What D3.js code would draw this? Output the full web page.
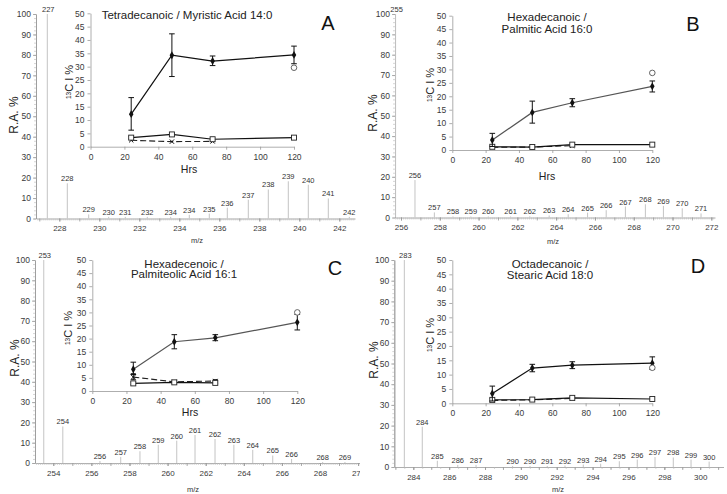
<!DOCTYPE html>
<html><head><meta charset="utf-8">
<script src="https://cdn.jsdelivr.net/npm/d3@7/dist/d3.min.js"></script>
<style>
body{margin:0;background:#fff;}
svg text{font-family:"Liberation Sans",Arial,Helvetica,sans-serif;}
</style></head><body>
<script>
// ---------------- data ----------------
const hours = [24, 48, 72, 120];
const hours3 = [24, 48, 72];
const hoursOpen = [120];

// Panel A – Tetradecanoic / Myristic Acid 14:0
const specA_mz  = [227.4, 228.4, 229.47, 230.47, 231.3, 232.4, 233.57, 234.5, 235.5, 236.4, 237.45, 238.45, 239.45, 240.45, 241.45, 242.5];
const specA_ra  = [100, 17.2, 2, 0.8, 0.8, 0.8, 0.8, 1.8, 2.4, 5.3, 9.2, 14.2, 18.2, 16.5, 9.8, 0.8];
const specA_lbl = ["227","228","229","230","231","232","234","234","235","236","237","238","239","240","241","242"];
const incA_mean = [12.2, 34.3, 32.1, 34.4];
const incA_lo   = [6.2, 26.3, 30.4, 31.1];
const incA_hi   = [18.4, 42.3, 34.0, 37.7];
const incA_open = [29.6];
const incA_sq   = [3.4, 4.6, 2.8, 3.4];
const incA_sqLo = [2.9, 4.1, 2.3, 2.9];
const incA_sqHi = [3.9, 5.1, 3.4, 3.9];
const incA_x    = [2.4, 1.9, 2.0];

// Panel B – Hexadecanoic / Palmitic Acid 16:0
const specB_mz  = [255.72, 256.72, 257.72, 258.68, 259.6, 260.5, 261.65, 262.64, 263.64, 264.62, 265.62, 266.58, 267.57, 268.6, 269.53, 270.5, 271.47];
const specB_ra  = [100, 18.4, 2.5, 0.5, 0.5, 0.5, 0.5, 0.6, 1.0, 1.6, 2.4, 3.6, 5.4, 6.5, 5.7, 4.5, 2.0];
const specB_lbl = ["255","256","257","258","259","260","261","262","263","264","265","266","267","268","269","270","271"];
const incB_mean = [3.7, 14.0, 17.6, 23.7];
const incB_lo   = [1.3, 10.0, 16.1, 21.6];
const incB_hi   = [6.2, 18.2, 19.1, 25.7];
const incB_open = [28.7];
const incB_sq   = [1.2, 1.1, 2.0, 2.0];
const incB_sqLo = [0.7, 0.6, 1.5, 1.4];
const incB_sqHi = [1.7, 1.6, 2.5, 2.6];
const incB_x    = [1.0, 1.1, 1.6];

// Panel C – Hexadecenoic / Palmiteolic Acid 16:1
const specC_mz  = [253.5, 254.5, 256.45, 257.54, 258.55, 259.51, 260.48, 261.44, 262.49, 263.48, 264.47, 265.52, 266.51, 268.14, 269.31];
const specC_ra  = [100, 18, 1, 3, 5.8, 9, 11, 13.8, 11.8, 9, 6.5, 3.7, 2, 0.5, 0.5];
const specC_lbl = ["253","254","256","257","258","259","260","261","262","263","264","265","266","268","269"];
const incC_mean = [8.3, 18.8, 20.3, 26.2];
const incC_lo   = [6.3, 16.1, 19.2, 23.3];
const incC_hi   = [11.0, 21.5, 21.5, 29.2];
const incC_open = [30.0];
const incC_sq   = [2.9, 3.3, 3.1];
const incC_sqLo = [2.4, 2.9, 2.6];
const incC_sqHi = [3.4, 3.7, 3.6];
const incC_x    = [5.3, 3.5, 3.8];
const incC_xLo  = [4.3, 3.1, 3.3];
const incC_xHi  = [6.6, 3.9, 4.3];

// Panel D – Octadecanoic / Stearic Acid 18:0
const specD_mz  = [283.5, 284.5, 285.34, 286.48, 287.5, 289.54, 290.51, 291.47, 292.46, 293.48, 294.45, 295.49, 296.49, 297.48, 298.5, 299.49, 300.5];
const specD_ra  = [100, 19.5, 3, 1, 1, 0.5, 0.5, 0.5, 0.7, 1.2, 1.6, 2.8, 3.6, 4.8, 4.6, 3.6, 2.6];
const specD_lbl = ["283","284","285","286","287","290","290","291","292","293","294","295","296","297","298","299","300"];
const incD_mean = [3.4, 12.3, 13.3, 14.0];
const incD_lo   = [0.8, 11.0, 12.1, 11.8];
const incD_hi   = [6.0, 13.6, 14.5, 16.2];
const incD_open = [12.4];
const incD_sq   = [1.2, 1.3, 1.9, 1.5];
const incD_sqLo = [0.8, 0.9, 1.5, 1.1];
const incD_sqHi = [1.6, 1.7, 2.3, 1.9];
const incD_x    = [1.0, 1.2, 1.7];

const raTicks = d3.range(0, 101, 10);
const incYTicks = d3.range(0, 51, 5);
const incXTicks = d3.range(0, 121, 20);

// ---------------- layout ----------------
const FONT = '"Liberation Sans",Arial,Helvetica,sans-serif';
const panels = [
  {letter:"A", mz:specA_mz, ra:specA_ra, lbl:specA_lbl,
   xDomain:[226.835,242.785], xRange:[36,355], yRange:[218.5,14], xTicks:d3.range(228,243,2), minorStep:0.1,
   inX:[90.5,294], inY:[146.7,13.3],
   mean:incA_mean, lo:incA_lo, hi:incA_hi, open:incA_open, sq:incA_sq, sqLo:incA_sqLo, sqHi:incA_sqHi, sqHours:hours,
   xs:incA_x, xLo:null, xHi:null, labColor:"#111",
   title:["Tetradecanoic / Myristic Acid 14:0"], titleX:187, titleY:[19],
   letterPos:[328,30], hrs:[189,173], yLab:[73,82], ra_:[14,115], mzPos:[197,243]},
  {letter:"B", mz:specB_mz, ra:specB_ra, lbl:specB_lbl,
   xDomain:[255.69,272.19], xRange:[395,715], yRange:[217.5,14], xTicks:d3.range(256,273,2), minorStep:0.1,
   inX:[452.3,652.3], inY:[150,15.7],
   mean:incB_mean, lo:incB_lo, hi:incB_hi, open:incB_open, sq:incB_sq, sqLo:incB_sqLo, sqHi:incB_sqHi, sqHours:hours,
   xs:incB_x, xLo:null, xHi:null, labColor:"#555",
   title:["Hexadecanoic /","Palmitic Acid 16:0"], titleX:547, titleY:[21,32.5],
   letterPos:[693,31], hrs:[547,179.5], yLab:[433.5,85], ra_:[373,113], mzPos:[553,243.5]},
  {letter:"C", mz:specC_mz, ra:specC_ra, lbl:specC_lbl, clip:"clipC",
   xDomain:[253.04,270.1], xRange:[35,360], yRange:[463,260], xTicks:d3.range(254,271,2), minorStep:0.1,
   inX:[92.3,297.3], inY:[391,260],
   mean:incC_mean, lo:incC_lo, hi:incC_hi, open:incC_open, sq:incC_sq, sqLo:incC_sqLo, sqHi:incC_sqHi, sqHours:hours3,
   xs:incC_x, xLo:incC_xLo, xHi:incC_xHi, labColor:"#555",
   title:["Hexadecenoic  /","Palmiteolic Acid 16:1"], titleX:184, titleY:[267.5,278],
   letterPos:[335,275], hrs:[190,415.5], yLab:[72,328], ra_:[15,358], mzPos:[193,492]},
  {letter:"D", mz:specD_mz, ra:specD_ra, lbl:specD_lbl,
   xDomain:[282.94,301.3], xRange:[394.3,723.5], yRange:[467,260], xTicks:d3.range(284,301,2), minorStep:0.5,
   inX:[452.3,652.3], inY:[403.3,260],
   mean:incD_mean, lo:incD_lo, hi:incD_hi, open:incD_open, sq:incD_sq, sqLo:incD_sqLo, sqHi:incD_sqHi, sqHours:hours,
   xs:incD_x, xLo:null, xHi:null, labColor:"#111",
   title:["Octadecanoic /","Stearic Acid 18:0"], titleX:550, titleY:[267.5,278.5],
   letterPos:[698,272.5], hrs:null, yLab:[433.5,335], ra_:[374,360], mzPos:[558,492]}
];

const svg = d3.select("body").append("svg").attr("width",727).attr("height",494)
  .attr("font-family",FONT);
svg.append("rect").attr("width",727).attr("height",494).attr("fill","#fff");
svg.append("defs").append("clipPath").attr("id","clipC")
  .append("rect").attr("x",0).attr("y",245).attr("width",360).attr("height",249);

function styleAxis(sel, fs){
  sel.attr("font-family",FONT).attr("font-size",fs).attr("color","#3a3a3a");
  sel.selectAll("line").attr("stroke","#999").attr("stroke-width",0.8);
  sel.select(".domain").attr("stroke","#999").attr("stroke-width",0.8);
}

function errBars(g, xs, ys, lo, hi, sx, sy, cap){
  g.selectAll(null).data(d3.range(ys.length)).join("path")
    .attr("d", i => {
      const X = sx(xs[i]), a = sy(lo[i]), b = sy(hi[i]);
      return `M${X},${a}V${b}M${X-cap},${a}H${X+cap}M${X-cap},${b}H${X+cap}`;
    })
    .attr("fill","none").attr("stroke","#111").attr("stroke-width",1);
}

function drawPanel(P){
  const g = svg.append("g");
  if (P.clip) g.attr("clip-path", `url(#${P.clip})`);
  const x = d3.scaleLinear().domain(P.xDomain).range(P.xRange);
  const y = d3.scaleLinear().domain([0,100]).range(P.yRange);
  const y0 = P.yRange[0];

  // spectrum x axis: minor, integer and labelled ticks
  const minorVals = d3.range(Math.ceil(P.xDomain[0]/P.minorStep), Math.floor(P.xDomain[1]/P.minorStep)+1)
    .map(k => +(k*P.minorStep).toFixed(3));
  const gm = g.append("g").attr("transform",`translate(0,${y0})`)
    .call(d3.axisBottom(x).tickValues(minorVals).tickSize(2).tickSizeOuter(0).tickFormat(""));
  styleAxis(gm, 8);
  gm.selectAll("line").attr("stroke","#bbb").attr("stroke-width",0.6);
  const intVals = d3.range(Math.ceil(P.xDomain[0]), Math.floor(P.xDomain[1])+1);
  const gi = g.append("g").attr("transform",`translate(0,${y0})`)
    .call(d3.axisBottom(x).tickValues(intVals).tickSize(3).tickSizeOuter(0).tickFormat(""));
  styleAxis(gi, 8);
  gi.select(".domain").remove();
  const gx = g.append("g").attr("transform",`translate(0,${y0})`)
    .call(d3.axisBottom(x).tickValues(P.xTicks).tickSize(3).tickSizeOuter(0).tickPadding(4).tickFormat(d3.format("d")));
  styleAxis(gx, 8);
  gx.select(".domain").remove();

  // spectrum y axis
  const gym = g.append("g").attr("transform",`translate(${P.xRange[0]},0)`)
    .call(d3.axisLeft(y).tickValues(d3.range(0,101,2)).tickSize(2).tickSizeOuter(0).tickFormat(""));
  styleAxis(gym, 8);
  gym.selectAll("line").attr("stroke","#bbb").attr("stroke-width",0.6);
  const gy = g.append("g").attr("transform",`translate(${P.xRange[0]},0)`)
    .call(d3.axisLeft(y).tickValues(raTicks).tickSize(3).tickSizeOuter(0).tickPadding(2));
  styleAxis(gy, 8.5);

  // peaks
  const idx = d3.range(P.mz.length);
  g.selectAll(null).data(idx).join("line")
    .attr("x1", i => x(P.mz[i])).attr("x2", i => x(P.mz[i]))
    .attr("y1", y(0)).attr("y2", i => y(P.ra[i]))
    .attr("stroke","#c4c4c4").attr("stroke-width",1);
  g.selectAll(null).data(idx).join("text")
    .attr("x", i => x(P.mz[i]) + (i===0 ? 1 : 0)).attr("y", i => y(P.ra[i]) - 2)
    .attr("text-anchor","middle").attr("font-size",7.5).attr("fill","#333")
    .text(i => P.lbl[i]);

  // axis titles of spectrum
  g.append("text").attr("transform",`translate(${P.ra_[0]},${P.ra_[1]}) rotate(-90)`)
    .attr("text-anchor","middle").attr("dy","0.35em").attr("font-size",12).attr("fill","#222").text("R.A. %");
  g.append("text").attr("x",P.mzPos[0]).attr("y",P.mzPos[1]).attr("text-anchor","middle")
    .attr("font-size",7.5).attr("fill","#333").text("m/z");

  // ---------- inset ----------
  const ix = d3.scaleLinear().domain([0,120]).range(P.inX);
  const iy = d3.scaleLinear().domain([0,50]).range(P.inY);
  const iax = g.append("g").attr("transform",`translate(0,${P.inY[0]})`)
    .call(d3.axisBottom(ix).tickValues(incXTicks).tickSize(3).tickSizeOuter(0).tickPadding(4));
  styleAxis(iax, 8.5);
  const iay = g.append("g").attr("transform",`translate(${P.inX[0]},0)`)
    .call(d3.axisLeft(iy).tickValues(incYTicks).tickSize(3).tickSizeOuter(0).tickPadding(3));
  styleAxis(iay, 8.5);

  // dashed series (x markers)
  const line = d3.line();
  g.append("path").attr("d", line(hours3.map((h,i)=>[ix(h), iy(P.xs[i])])))
    .attr("fill","none").attr("stroke","#222").attr("stroke-width",1.1).attr("stroke-dasharray","6,3");
  if (P.xLo) errBars(g, hours3, P.xs, P.xLo, P.xHi, ix, iy, 2.5);
  const timesSym = d3.symbolTimes || d3.symbolX || d3.symbolCross;
  g.selectAll(null).data(hours3).join("path")
    .attr("transform",(h,i)=>`translate(${ix(h)},${iy(P.xs[i])})`)
    .attr("d", d3.symbol(timesSym, 14)()).attr("fill","none").attr("stroke","#111").attr("stroke-width",1);

  // open-square series
  g.append("path").attr("d", line(P.sqHours.map((h,i)=>[ix(h), iy(P.sq[i])])))
    .attr("fill","none").attr("stroke","#111").attr("stroke-width",1.2);
  errBars(g, P.sqHours, P.sq, P.sqLo, P.sqHi, ix, iy, 2.5);
  g.selectAll(null).data(P.sqHours).join("rect")
    .attr("x",(h)=>ix(h)-2.5).attr("y",(h,i)=>iy(P.sq[i])-2.5).attr("width",5).attr("height",5)
    .attr("fill","#fff").attr("stroke","#222").attr("stroke-width",0.9);

  // labelled (diamond) series
  g.append("path").attr("d", line(hours.map((h,i)=>[ix(h), iy(P.mean[i])])))
    .attr("fill","none").attr("stroke",P.labColor).attr("stroke-width",1.2);
  errBars(g, hours, P.mean, P.lo, P.hi, ix, iy, 2.8);
  g.selectAll(null).data(hours).join("path")
    .attr("transform",(h,i)=>`translate(${ix(h)},${iy(P.mean[i])})`)
    .attr("d", d3.symbol(d3.symbolDiamond, 18)()).attr("fill","#111");

  // open circle
  g.selectAll(null).data(hoursOpen).join("circle")
    .attr("cx", h => ix(h)).attr("cy",(h,i)=>iy(P.open[i])).attr("r",2.8)
    .attr("fill","#fff").attr("stroke","#555").attr("stroke-width",0.9);

  // inset texts
  P.title.forEach((t,k)=>{
    g.append("text").attr("x",P.titleX).attr("y",P.titleY[k]).attr("text-anchor","middle")
      .attr("font-size",11.5).attr("fill","#222").text(t);
  });
  g.append("text").attr("x",P.letterPos[0]).attr("y",P.letterPos[1]).attr("text-anchor","middle")
    .attr("font-size",20).attr("fill","#111").text(P.letter);
  if (P.hrs) g.append("text").attr("x",P.hrs[0]).attr("y",P.hrs[1]).attr("text-anchor","middle")
    .attr("font-size",10.5).attr("fill","#222").text("Hrs");
  const yl = g.append("text").attr("transform",`translate(${P.yLab[0]},${P.yLab[1]}) rotate(-90)`)
    .attr("text-anchor","middle").attr("dy","0.35em").attr("font-size",11).attr("fill","#222");
  yl.append("tspan").attr("font-size",6.5).attr("dy","-0.3em").text("13");
  yl.append("tspan").attr("dy","0.2em").text("C I %");
}

panels.forEach(drawPanel);
</script>
</body></html>
